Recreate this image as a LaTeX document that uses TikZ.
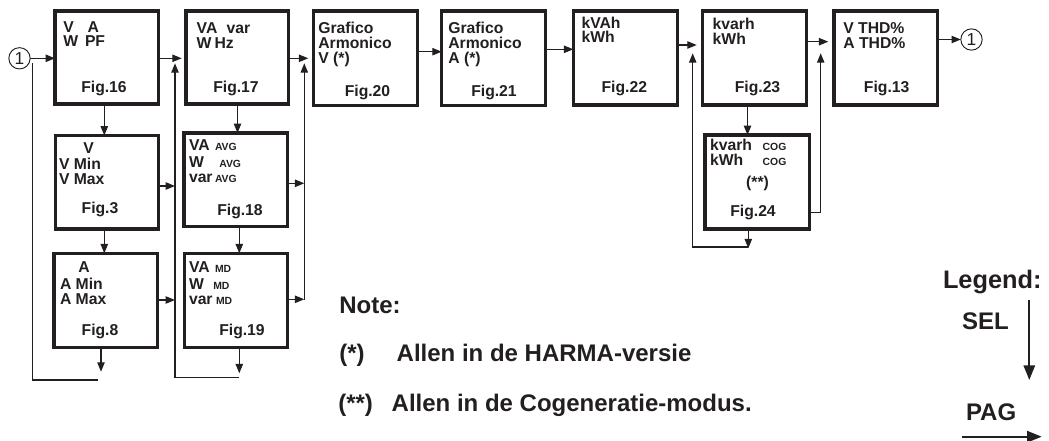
\documentclass[tikz,border=0pt]{standalone}
\usepackage{fontspec}
\setmainfont{Liberation Sans}
\usetikzlibrary{arrows.meta}
\definecolor{ink}{RGB}{35,31,32}
\newcommand\mkbox[5]{\node[box, minimum width=#4*0.75pt, minimum height=#5*0.75pt] (#1) at (#2,#3) {};}
\begin{document}
\begin{tikzpicture}[x=0.75pt,y=-0.75pt,
  box/.style={draw=ink, line width=2.3pt, inner sep=0pt, outer sep=0pt, anchor=north west},
  txt/.style={anchor=base west, inner sep=0pt, outer sep=0pt, text=ink, font=\bfseries\fontsize{11.8}{12}\selectfont},
  sm/.style={anchor=base west, inner sep=0pt, outer sep=0pt, text=ink, font=\bfseries\fontsize{7.8}{8}\selectfont},
  figl/.style={anchor=base, inner sep=0pt, outer sep=0pt, text=ink, font=\bfseries\fontsize{11.8}{12}\selectfont},
  note/.style={anchor=base west, inner sep=0pt, outer sep=0pt, text=ink, font=\bfseries\fontsize{18}{20}\selectfont},
  conn/.style={draw=ink, line width=0.9pt},
  arr/.style={conn, -{Triangle[length=7pt,width=5.5pt]}},
  bigarr/.style={draw=ink, line width=1.5pt, -{Triangle[length=11pt,width=8.5pt]}},
  circ/.style={draw=ink, circle, line width=0.7pt, inner sep=0pt, outer sep=0pt, minimum size=16pt, text=ink, font=\fontsize{13}{13}\selectfont},
]
\useasboundingbox (0,0) rectangle (1049,441);

% ---------- boxes ----------
\mkbox{b16}{55}{11}{103.5}{93}
\mkbox{b17}{186}{11}{102.3}{93}
\mkbox{b20}{313.3}{11}{104}{94.5}
\mkbox{b21}{441.7}{11}{104}{94.5}
\mkbox{b22}{573.3}{11}{104}{94}
\mkbox{b23}{702.3}{11}{104.4}{94}
\mkbox{b13}{834}{11}{103.7}{94}
\mkbox{b3}{55.7}{135.5}{102.6}{93.5}
\mkbox{b18}{184}{133}{103.5}{93.5}
\mkbox{b8}{54}{253.3}{103.7}{94.4}
\mkbox{b19}{184.3}{253.3}{103}{94.4}
\mkbox{b24}{705}{135}{104.5}{94}

% ---------- box texts ----------
\node[txt] (t16a) at (63.3,32.7) {V};
\node[txt] (t16b) at (87.7,32.7) {A};
\node[txt] (t16c) at (63.3,46.7) {W};
\node[txt] (t16d) at (85,46.7) {PF};
\node[figl] (f16) at (104,93) {Fig.16};

\node[txt] (t17a) at (196.7,33.3) {VA};
\node[txt] (t17b) at (226.7,33.3) {var};
\node[txt] (t17c) at (196.7,48.3) {W};
\node[txt] (t17d) at (214.5,48.3) {Hz};
\node[figl] (f17) at (236,93) {Fig.17};

\node[txt] (t20a) at (318.3,33.3) {Grafico};
\node[txt] (t20b) at (318.3,48.3) {Armonico};
\node[txt] (t20c) at (318.3,63.3) {V (*)};
\node[figl] (f20) at (367.5,96.7) {Fig.20};

\node[txt] (t21a) at (448.3,33.3) {Grafico};
\node[txt] (t21b) at (448.3,48.3) {Armonico};
\node[txt] (t21c) at (448.3,63.3) {A (*)};
\node[figl] (f21) at (494,96.7) {Fig.21};

\node[txt] (t22a) at (581.5,28.3) {kVAh};
\node[txt] (t22b) at (581.5,42.7) {kWh};
\node[figl] (f22) at (624.3,93) {Fig.22};

\node[txt] (t23a) at (712.7,29.3) {kvarh};
\node[txt] (t23b) at (712.7,44.3) {kWh};
\node[figl] (f23) at (757.5,93) {Fig.23};

\node[txt] (t13a) at (843.3,33.3) {V THD\%};
\node[txt] (t13b) at (843.3,48.3) {A THD\%};
\node[figl] (f13) at (886.7,93) {Fig.13};

\node[txt] (t3a) at (83.3,153.3) {V};
\node[txt] (t3b) at (59,169.3) {V Min};
\node[txt] (t3c) at (59,185) {V Max};
\node[figl] (f3) at (100,213.3) {Fig.3};

\node[txt] (t18a) at (189,150.7) {VA};
\node[sm]  (s18a) at (215,150.7) {AVG};
\node[txt] (t18b) at (189,167.3) {W};
\node[sm]  (s18b) at (219.3,167.3) {AVG};
\node[txt] (t18c) at (189,183) {var};
\node[sm]  (s18c) at (215,183) {AVG};
\node[figl] (f18) at (240,215.3) {Fig.18};

\node[txt] (t8a) at (78.3,272.7) {A};
\node[txt] (t8b) at (60,289.3) {A Min};
\node[txt] (t8c) at (60,305) {A Max};
\node[figl] (f8) at (100,336) {Fig.8};

\node[txt] (t19a) at (189,273) {VA};
\node[sm]  (s19a) at (215,273) {MD};
\node[txt] (t19b) at (189,290) {W};
\node[sm]  (s19b) at (213.3,290) {MD};
\node[txt] (t19c) at (189,305) {var};
\node[sm]  (s19c) at (216,305) {MD};
\node[figl] (f19) at (242,336) {Fig.19};

\node[txt] (t24a) at (710,150.7) {kvarh};
\node[sm]  (s24a) at (762.7,150.7) {COG};
\node[txt] (t24b) at (710,166) {kWh};
\node[sm]  (s24b) at (762.7,166) {COG};
\node[figl] (t24c) at (757.5,188) {(**)};
\node[figl] (f24) at (753,216.7) {Fig.24};

% ---------- circles ----------
\node[circ] (c1) at (19.5,58.3) {1};
\node[circ] (c2) at (971.5,39.5) {1};

% ---------- helper coordinates ----------
\coordinate (e16) at (181.7,58.3);
\coordinate (e17) at (308.3,58.3);
\coordinate (e3) at (175,186);
\coordinate (e8) at (175,300);
\coordinate (e18) at (304.3,183.3);
\coordinate (e19) at (304.3,299.3);
\coordinate (va) at (175,63.3);
\coordinate (vab) at (175,377.7);
\coordinate (vb) at (304.3,63.3);
\coordinate (vbb) at (304.3,300);
\coordinate (lpa) at (32.3,63.3);
\coordinate (lpb) at (32.3,380);
\coordinate (lpc) at (98.3,380);
\coordinate (x1) at (104.3,0);
\coordinate (x2) at (237.5,0);
\coordinate (x3) at (239.3,0);
\coordinate (e8d) at (101,371.7);
\coordinate (e19d) at (239.3,373.3);
\coordinate (h19) at (239.3,377.7);
\coordinate (y20) at (0,51.7);
\coordinate (y21) at (0,49.3);
\coordinate (e22) at (696.7,45);
\coordinate (e23) at (828.3,41.7);
\coordinate (vc) at (692.7,53.3);
\coordinate (vcb) at (692.7,247);
\coordinate (vd) at (820.7,53.3);
\coordinate (vdb) at (820.7,212.3);
\coordinate (x4) at (747.5,0);
\coordinate (x5) at (748.3,0);
\coordinate (e24d) at (748.3,248.3);
\coordinate (h24) at (748.3,247);

% ---------- connectors ----------
\draw[arr] (c1) -- (c1 -| b16.west);
\draw[conn] (lpc) -- (lpb) -- (lpa);
\draw[arr] (b16.east |- e16) -- (e16);
\draw[arr] (h19) -- (vab) -- (va);
\draw[arr] (b3.east |- e3) -- (e3);
\draw[arr] (b8.east |- e8) -- (e8);
\draw[arr] (b16.south -| x1) -- (b3.north -| x1);
\draw[arr] (b3.south -| x1) -- (b8.north -| x1);
\draw[arr] (b8.south -| e8d) -- (e8d);

\draw[arr] (b17.east |- e17) -- (e17);
\draw[arr] (vbb) -- (vb);
\draw[arr] (b18.east |- e18) -- (e18);
\draw[arr] (b19.east |- e19) -- (e19);
\draw[arr] (b17.south -| x2) -- (b18.north -| x2);
\draw[arr] (b18.south -| x3) -- (b19.north -| x3);
\draw[arr] (b19.south -| e19d) -- (e19d);

\draw[arr] (b20.east |- y20) -- (b21.west |- y20);
\draw[arr] (b21.east |- y21) -- (b22.west |- y21);
\draw[arr] (b22.east |- e22) -- (e22);
\draw[arr] (h24) -- (vcb) -- (vc);
\draw[arr] (b23.south -| x4) -- (b24.north -| x4);
\draw[arr] (b24.south -| e24d) -- (e24d);
\draw[arr] (b23.east |- e23) -- (e23);
\draw[arr] (b24.east |- vdb) -- (vdb) -- (vd);
\draw[arr] (b13.east |- c2) -- (c2);

% ---------- notes ----------
\node[note] (nt) at (339.3,313.3) {Note:};
\node[note] (n1a) at (339.3,361.7) {(*)};
\node[note] (n1b) at (396.7,361.7) {Allen in de HARMA-versie};
\node[note] (n2a) at (338.3,411.7) {(**)};
\node[note] (n2b) at (391.7,411.7) {Allen in de Cogeneratie-modus.};

% ---------- legend ----------
\node[note, font=\bfseries\fontsize{19}{20}\selectfont] (lg) at (943,289) {Legend:};
\node[note] (sel) at (962,330) {SEL};
\node[note] (pag) at (966,420) {PAG};
\coordinate (sa) at (1029.3,300);
\coordinate (sb) at (1029.3,380);
\coordinate (pa) at (962,436.7);
\coordinate (pb) at (1041.7,436.7);
\draw[bigarr] (sa) -- (sb);
\draw[bigarr] (pa) -- (pb);
\end{tikzpicture}
\end{document}
